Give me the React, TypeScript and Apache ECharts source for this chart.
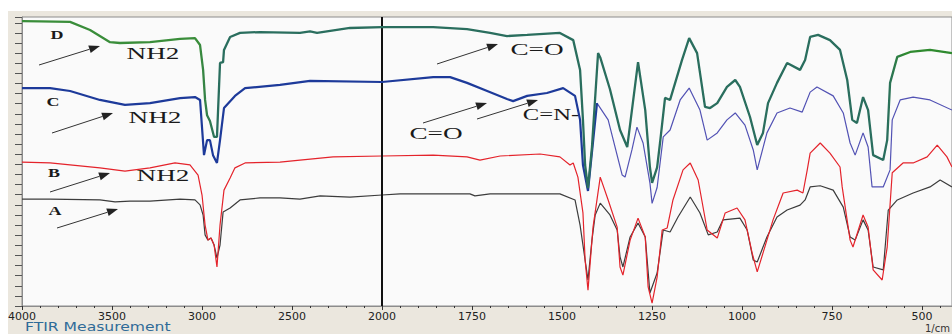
import React, { useEffect, useRef } from "react";
import * as echarts from "echarts";

// Tick labels of the wavenumber axis (1/cm); the axis is split: 500 per unit above 2000, 250 per unit below
const tickLabels = [4000, 3500, 3000, 2500, 2000, 1750, 1500, 1250, 1000, 750, 500];

// Sample D (green)
const dWn = [4000, 3900, 3733, 3622, 3511, 3456, 3289, 3122, 3039, 3011, 2994, 2983, 2972, 2956, 2933, 2917, 2900, 2883, 2878, 2844, 2789, 2678, 2456, 2400, 2361, 2178, 2000, 1858, 1764, 1700, 1653, 1597, 1506, 1469, 1450, 1442, 1436, 1428, 1417, 1400, 1394, 1367, 1339, 1319, 1289, 1269, 1256, 1250, 1236, 1228, 1214, 1200, 1167, 1147, 1125, 1103, 1089, 1069, 1042, 1019, 1006, 978, 958, 942, 928, 903, 875, 839, 825, 811, 789, 756, 728, 708, 694, 681, 664, 650, 636, 608, 597, 589, 569, 533, 478, 417];
const dT = [98.6, 98.5, 98.3, 95.5, 91.3, 91.0, 91.3, 92.4, 92.7, 90.3, 81.7, 71.3, 66.0, 64.0, 58.5, 58.5, 84.1, 84.4, 88.6, 93.1, 94.5, 94.8, 94.5, 95.0, 94.5, 96.2, 96.5, 96.5, 95.8, 94.5, 93.4, 93.8, 94.5, 92.0, 81.7, 64.4, 48.8, 40.8, 55.0, 87.5, 86.0, 75.0, 60.9, 55.0, 84.4, 67.8, 48.0, 42.6, 48.0, 56.4, 72.0, 71.3, 85.1, 92.7, 87.5, 68.9, 68.5, 70.2, 75.8, 78.2, 75.8, 65.4, 55.7, 59.9, 70.2, 77.2, 84.1, 81.7, 85.1, 93.1, 93.8, 92.0, 88.6, 78.2, 64.4, 63.3, 72.3, 67.8, 52.2, 50.5, 57.4, 77.2, 86.2, 87.9, 88.6, 87.5];

// Sample C (blue)
const cWn = [4000, 3844, 3733, 3567, 3428, 3289, 3122, 3039, 3011, 2989, 2972, 2956, 2939, 2917, 2900, 2878, 2817, 2761, 2567, 2400, 2000, 1858, 1811, 1764, 1708, 1653, 1636, 1597, 1542, 1497, 1464, 1450, 1442, 1428, 1403, 1372, 1333, 1325, 1306, 1292, 1275, 1256, 1250, 1236, 1219, 1200, 1172, 1147, 1117, 1097, 1069, 1042, 1019, 992, 969, 958, 931, 903, 867, 833, 811, 792, 747, 719, 700, 686, 664, 650, 639, 608, 589, 583, 561, 525, 478, 417];
const cT = [75.4, 75.4, 74.4, 71.3, 69.6, 70.2, 71.9, 72.3, 71.3, 52.2, 57.4, 57.4, 52.2, 49.5, 57.4, 68.5, 72.7, 75.4, 76.5, 77.9, 77.5, 79.2, 79.2, 77.2, 74.4, 71.6, 70.9, 72.7, 73.7, 75.4, 72.7, 64.4, 48.8, 39.8, 70.2, 64.4, 45.3, 44.6, 54.0, 61.9, 56.4, 42.6, 35.5, 41.0, 58.5, 60.9, 71.3, 75.4, 67.8, 57.4, 59.9, 64.4, 66.8, 62.6, 54.0, 47.1, 59.9, 66.8, 68.5, 67.1, 74.0, 75.8, 72.7, 66.8, 56.4, 52.2, 59.9, 55.0, 41.2, 41.2, 47.1, 64.4, 71.3, 72.3, 71.3, 67.8];

// Sample B (red)
const bWn = [4000, 3844, 3567, 3428, 3289, 3150, 3067, 3022, 3000, 2983, 2967, 2950, 2933, 2917, 2900, 2878, 2844, 2817, 2761, 2567, 2456, 2272, 2000, 1858, 1764, 1728, 1672, 1561, 1506, 1478, 1469, 1456, 1442, 1436, 1428, 1414, 1394, 1372, 1347, 1339, 1331, 1311, 1289, 1269, 1261, 1250, 1236, 1222, 1208, 1192, 1164, 1144, 1122, 1097, 1069, 1047, 1014, 992, 972, 958, 942, 914, 886, 847, 831, 819, 811, 783, 756, 728, 722, 700, 692, 664, 650, 636, 611, 597, 583, 553, 525, 486, 458, 431, 417];
const bT = [49.8, 49.5, 47.8, 46.7, 47.8, 49.5, 48.8, 45.3, 38.4, 28.0, 22.8, 23.5, 21.1, 13.5, 28.0, 40.1, 44.3, 47.8, 49.5, 49.8, 50.5, 51.6, 51.9, 52.2, 51.6, 50.5, 51.9, 52.6, 51.6, 48.8, 49.5, 44.6, 32.2, 15.9, 5.5, 27.3, 44.6, 36.7, 27.3, 13.5, 10.7, 22.8, 30.4, 23.9, 6.6, 1.0, 10.0, 26.3, 27.0, 36.7, 47.1, 49.5, 43.6, 26.3, 23.5, 32.2, 33.9, 29.8, 18.3, 11.8, 18.3, 29.8, 39.1, 40.1, 39.1, 47.1, 52.9, 56.4, 52.9, 48.1, 41.2, 22.8, 20.4, 31.5, 27.3, 12.5, 9.0, 20.4, 46.1, 49.5, 49.5, 51.6, 55.7, 51.6, 48.1];

// Sample A (black)
const aWn = [4000, 3844, 3567, 3483, 3400, 3289, 3122, 3039, 3011, 2994, 2983, 2967, 2950, 2933, 2917, 2900, 2883, 2844, 2789, 2678, 2567, 2456, 2344, 2178, 2000, 1950, 1756, 1742, 1700, 1506, 1464, 1450, 1436, 1428, 1417, 1408, 1394, 1367, 1347, 1339, 1331, 1311, 1289, 1269, 1256, 1236, 1219, 1200, 1178, 1144, 1117, 1094, 1069, 1053, 1006, 986, 969, 958, 931, 903, 875, 839, 825, 811, 783, 747, 719, 700, 686, 664, 650, 636, 608, 594, 569, 525, 478, 450, 417];
const aT = [37.0, 37.0, 36.7, 36.0, 36.3, 36.3, 37.0, 36.7, 35.0, 31.5, 24.6, 22.8, 23.5, 21.1, 16.6, 21.1, 32.5, 33.9, 36.7, 37.4, 37.4, 37.0, 38.1, 37.7, 38.4, 38.8, 38.8, 38.1, 38.8, 38.8, 36.7, 28.0, 15.9, 9.0, 22.8, 31.5, 35.6, 31.5, 26.3, 17.0, 13.5, 23.9, 28.7, 23.9, 4.5, 11.4, 26.3, 25.6, 30.8, 37.7, 32.2, 24.6, 25.6, 29.8, 30.4, 26.3, 15.9, 15.2, 23.9, 30.8, 33.2, 34.9, 36.7, 41.2, 41.6, 40.1, 34.2, 23.9, 22.8, 29.8, 26.3, 13.5, 12.5, 33.2, 36.7, 39.1, 41.2, 43.6, 41.2];

const wnMin = 417;

// axis transform: wavenumber -> axis position
const toP = (wn: number) => (wn >= 2000 ? (4000 - wn) / 500 : 4 + (2000 - wn) / 250);

const pair = (wn: number[], t: number[]) => wn.map((w, i) => [toP(w), t[i]]);

function arrow(x1: number, y1: number, x2: number, y2: number) {
  const ang = Math.atan2(y2 - y1, x2 - x1);
  const L = 11, W = 4;
  const bx = x2 - L * Math.cos(ang), by = y2 - L * Math.sin(ang);
  const nx = -Math.sin(ang), ny = Math.cos(ang);
  return [
    { type: "line", z: 100, shape: { x1, y1, x2: bx, y2: by }, style: { stroke: "#333", lineWidth: 1 } },
    {
      type: "polygon", z: 100,
      shape: { points: [[x2, y2], [bx + nx * W, by + ny * W], [bx - nx * W, by - ny * W]] },
      style: { fill: "#222" },
    },
  ];
}

function label(text: string, x: number, y: number, size: number, bold: boolean, sx: number) {
  return {
    type: "text", z: 100, x, y, scaleX: sx,
    style: {
      text, fill: "#1a1a1a", fontSize: size, fontWeight: bold ? "bold" : "normal",
      fontFamily: '"Liberation Serif", "DejaVu Serif", serif',
      textAlign: "center", textVerticalAlign: "middle",
    },
  };
}

export default function App() {
  const ref = useRef<HTMLDivElement>(null);
  useEffect(() => {
    if (!ref.current) return;
    const chart = echarts.init(ref.current, undefined, { renderer: "svg" });
    const cLeftWn = cWn.filter((w) => w >= 1403);
    const cLeftT = cT.slice(0, cLeftWn.length);
    const cRightWn = cWn.slice(cLeftWn.length - 1);
    const cRightT = cT.slice(cLeftWn.length - 1);

    const graphics: any[] = [
      { type: "rect", z: -1, shape: { x: 0, y: 0, width: 952, height: 11 }, style: { fill: "#ffffff" } },
      { type: "rect", z: -1, shape: { x: 0, y: 0, width: 8, height: 334 }, style: { fill: "#ffffff" } },
      label("D", 57, 35, 12, true, 1.5),
      label("C", 53, 102, 12, true, 1.5),
      label("B", 54, 173, 12, true, 1.5),
      label("A", 55, 211, 12, true, 1.5),
      label("NH2", 153, 53, 17, false, 1.6),
      label("NH2", 155, 117, 17, false, 1.6),
      label("NH2", 163, 175, 17, false, 1.6),
      label("C=O", 537, 49, 17, false, 1.6),
      label("C=O", 436, 133, 17, false, 1.6),
      label("C=N-", 551, 114, 17, false, 1.45),
      ...arrow(39, 65, 100, 46),
      ...arrow(52, 133, 113, 113),
      ...arrow(50, 192, 110, 173),
      ...arrow(57, 228, 118, 209),
      ...arrow(437, 64, 498, 44),
      ...arrow(423, 123, 487, 103),
      ...arrow(477, 119, 538, 100),
      {
        type: "text", z: 100, x: 25, y: 321, scaleX: 1.3,
        style: { text: "FTIR Measurement", fill: "#2f6b98", fontSize: 12, fontFamily: '"DejaVu Sans", sans-serif' },
      },
      {
        type: "text", z: 100, x: 925, y: 323,
        style: { text: "1/cm", fill: "#333", fontSize: 10, fontFamily: '"DejaVu Sans", sans-serif' },
      },
    ];

    chart.setOption({
      animation: false,
      backgroundColor: "#ebe7de",
      grid: {
        left: 22, right: 0, top: 17, bottom: 28, show: true,
        backgroundColor: "#fafafa", borderColor: "#8c8c8c", borderWidth: 1,
      },
      xAxis: {
        type: "value", min: 0, max: toP(wnMin), interval: 1,
        axisLine: { show: true, lineStyle: { color: "#8c8c8c" } },
        axisTick: { show: true, length: 4, lineStyle: { color: "#333" } },
        minorTick: { show: true, splitNumber: 5, length: 2, lineStyle: { color: "#333" } },
        splitLine: { show: false },
        axisLabel: {
          show: true, margin: 5, color: "#222", fontSize: 11, fontFamily: '"DejaVu Sans", sans-serif',
          showMaxLabel: false,
          formatter: (v: number) => {
            const i = Math.round(v);
            return Math.abs(v - i) < 1e-6 && tickLabels[i] !== undefined ? String(tickLabels[i]) : "";
          },
        },
      },
      yAxis: {
        type: "value", min: 0, max: 100, interval: 3.5,
        axisLine: { show: true, lineStyle: { color: "#8c8c8c" } },
        axisTick: { show: true, length: 7, lineStyle: { color: "#555" } },
        axisLabel: { show: false },
        splitLine: { show: false },
      },
      graphic: graphics,
      series: [
        {
          name: "A", type: "line", showSymbol: false, data: pair(aWn, aT),
          lineStyle: { color: "#3c3c3c", width: 1.2 }, z: 2,
          markLine: {
            silent: true, symbol: "none", label: { show: false },
            lineStyle: { color: "#111", width: 2, type: "solid" },
            data: [{ xAxis: toP(2000) }],
          },
        },
        { name: "B", type: "line", showSymbol: false, data: pair(bWn, bT), lineStyle: { color: "#e4232b", width: 1.2 }, z: 3 },
        { name: "C", type: "line", showSymbol: false, data: pair(cRightWn, cRightT), lineStyle: { color: "#5252b4", width: 1.2 }, z: 4 },
        { name: "C ", type: "line", showSymbol: false, data: pair(cLeftWn, cLeftT), lineStyle: { color: "#1d3a9a", width: 2.2 }, z: 5 },
        {
          name: "D", type: "line", showSymbol: false, data: pair(dWn, dT), z: 6,
          lineStyle: {
            width: 2.3,
            color: new echarts.graphic.LinearGradient(0, 0, 1, 0, [
              { offset: 0, color: "#3a8d3a" },
              { offset: 0.19, color: "#3a8d3a" },
              { offset: 0.21, color: "#2a6e5e" },
              { offset: 0.93, color: "#2a6e5e" },
              { offset: 0.95, color: "#2f8a2f" },
              { offset: 1, color: "#2f8a2f" },
            ]),
          },
        },
      ],
    });
    return () => chart.dispose();
  }, []);
  return <div ref={ref} style={{ position: "fixed", left: 0, top: 0, width: 952, height: 334 }} />;
}
